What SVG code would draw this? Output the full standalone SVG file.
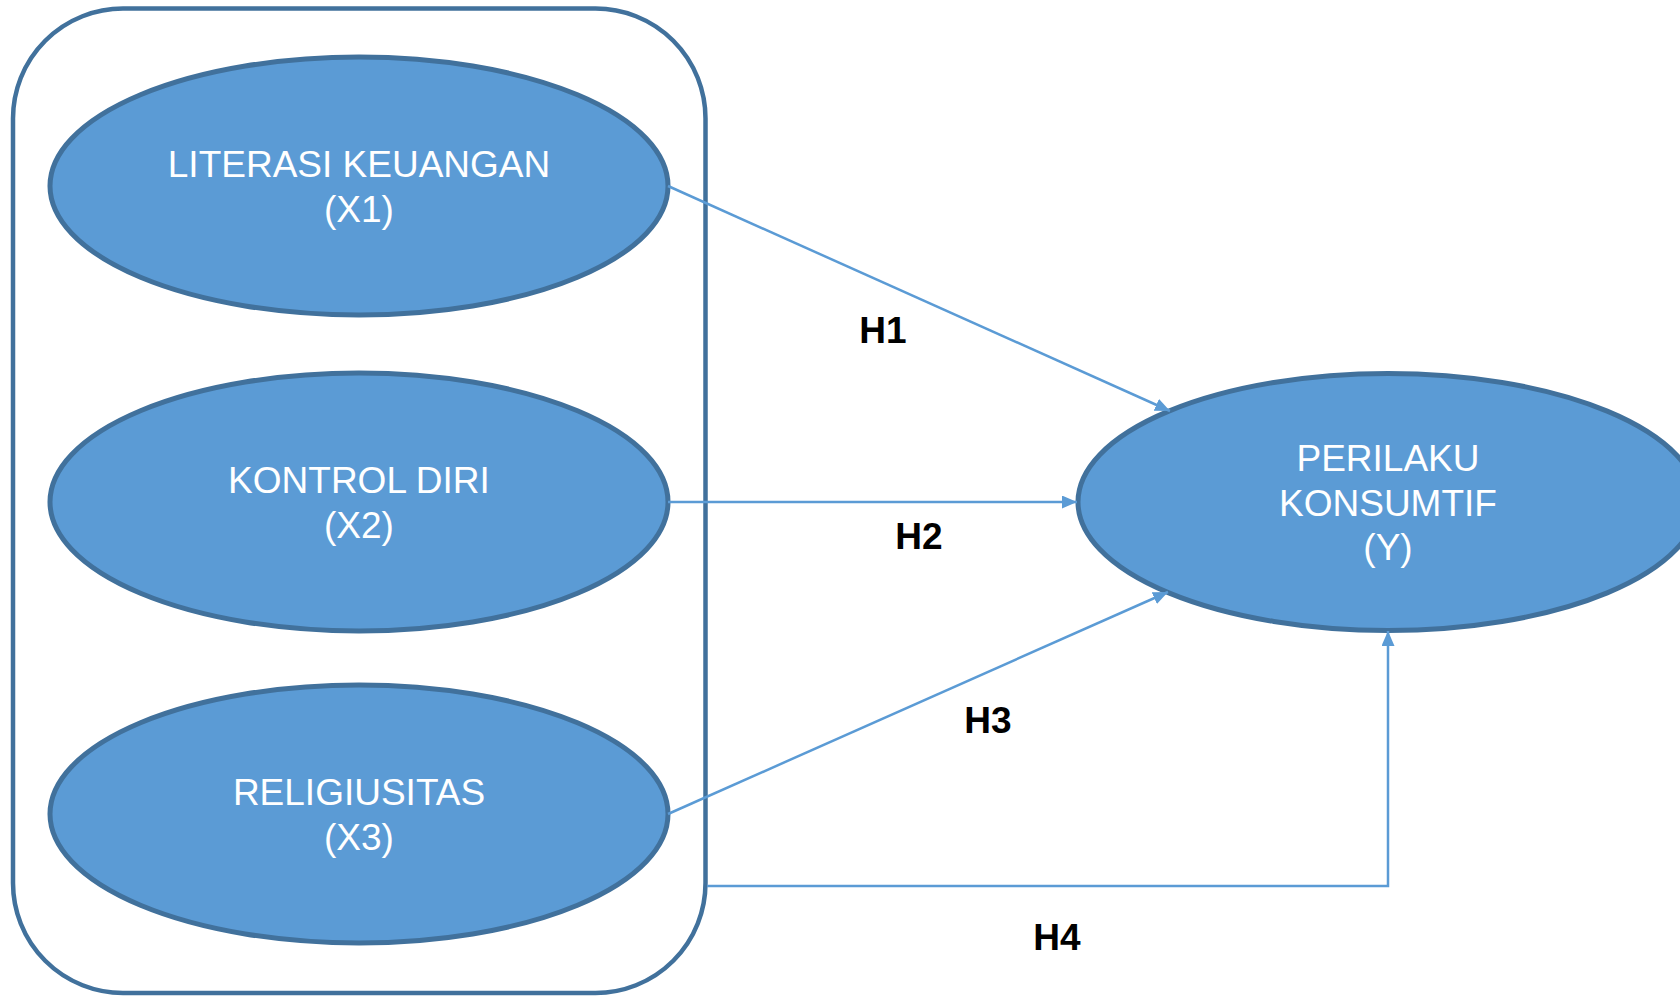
<svg xmlns="http://www.w3.org/2000/svg" width="1680" height="997" viewBox="0 0 1680 997">
<style>
.node{fill:#5B9BD5;stroke:#41719C;stroke-width:5}
.frame{fill:none;stroke:#41719C;stroke-width:4.5}
.lbl{font-family:"Liberation Sans",Arial,sans-serif;font-size:37px;fill:#FFFFFF;text-anchor:middle}
.h{font-family:"Liberation Sans",Arial,sans-serif;font-size:37px;font-weight:bold;fill:#000000;text-anchor:middle}
.conn{fill:none;stroke:#5B9BD5;stroke-width:2.5}
</style>
<defs>
<marker id="arr" markerUnits="userSpaceOnUse" markerWidth="16" markerHeight="14" refX="15" refY="6.5" orient="auto">
<path d="M0,0 L15,6.5 L0,13 z" fill="#5B9BD5"/>
</marker>
</defs>
<rect width="1680" height="997" fill="#FFFFFF"/>
<g id="frame">
<rect class="frame" x="13" y="8.5" width="692.5" height="984.5" rx="110" ry="110"/>
</g>
<g id="x1">
<ellipse class="node" cx="359" cy="186" rx="309" ry="129"/>
<text class="lbl" x="359" y="177">LITERASI KEUANGAN</text>
<text class="lbl" x="359" y="222">(X1)</text>
</g>
<g id="x2">
<ellipse class="node" cx="359" cy="502" rx="309" ry="129"/>
<text class="lbl" x="359" y="493">KONTROL DIRI</text>
<text class="lbl" x="359" y="538">(X2)</text>
</g>
<g id="x3">
<ellipse class="node" cx="359" cy="814" rx="309" ry="129"/>
<text class="lbl" x="359" y="805">RELIGIUSITAS</text>
<text class="lbl" x="359" y="850">(X3)</text>
</g>
<g id="y">
<ellipse class="node" cx="1388" cy="502" rx="310" ry="128.5"/>
<text class="lbl" x="1388" y="471">PERILAKU</text>
<text class="lbl" x="1388" y="516">KONSUMTIF</text>
<text class="lbl" x="1388" y="560">(Y)</text>
</g>
<g id="connectors">
<line class="conn" x1="668" y1="186" x2="1170" y2="411" marker-end="url(#arr)"/>
<line class="conn" x1="668" y1="502" x2="1077" y2="502" marker-end="url(#arr)"/>
<line class="conn" x1="668" y1="814" x2="1168" y2="592" marker-end="url(#arr)"/>
<polyline class="conn" points="707,886 1388,886 1388,631" marker-end="url(#arr)"/>
</g>
<g id="labels">
<text class="h" x="883" y="343">H1</text>
<text class="h" x="919" y="549">H2</text>
<text class="h" x="988" y="733">H3</text>
<text class="h" x="1057" y="950">H4</text>
</g>
</svg>
